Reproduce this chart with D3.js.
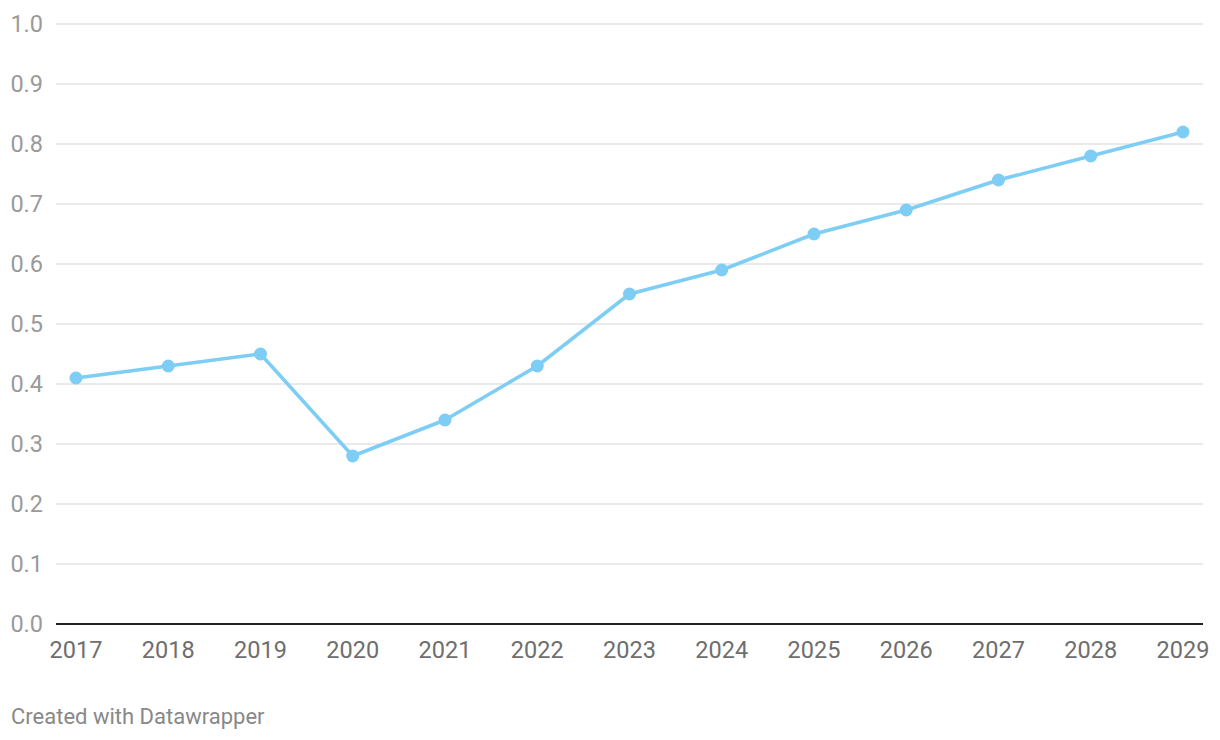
<!DOCTYPE html>
<html><head><meta charset="utf-8">
<script src="https://cdn.jsdelivr.net/npm/d3@7"></script>
<style>
html,body{margin:0;padding:0;background:#fff;}
svg{display:block;font-family:Roboto, "Noto Sans", sans-serif;}
</style></head>
<body>
<svg id="chart" width="1220" height="740"></svg>
<script>
const years = ["2017","2018","2019","2020","2021","2022","2023","2024","2025","2026","2027","2028","2029"];
const values = [0.41,0.43,0.45,0.28,0.34,0.43,0.55,0.59,0.65,0.69,0.74,0.78,0.82];
const yTicks = [0,0.1,0.2,0.3,0.4,0.5,0.6,0.7,0.8,0.9,1.0];
const footer = "Created with Datawrapper";

const svg = d3.select("#chart");
const x = d3.scalePoint().domain(years).range([76, 1183]);
const y = d3.scaleLinear().domain([0,1]).range([624, 24]);
const gridLeft = 56, gridRight = 1203;

const grid = svg.append("g");
grid.selectAll("line").data(yTicks.filter(d=>d>0)).join("line")
  .attr("x1", gridLeft).attr("x2", gridRight)
  .attr("y1", d=>y(d)).attr("y2", d=>y(d))
  .attr("stroke", "#e3e3e3").attr("stroke-width", 1.5);

svg.append("g").selectAll("text").data(yTicks).join("text")
  .attr("x", 43).attr("y", d=>y(d)).attr("dy","0.35em")
  .attr("text-anchor","end").attr("font-size", 23.5).attr("fill","#9a9a9a")
  .text(d=>d3.format(".1f")(d));

svg.append("line").attr("x1", gridLeft).attr("x2", gridRight)
  .attr("y1", y(0)).attr("y2", y(0)).attr("stroke","#222").attr("stroke-width",2);

svg.append("g").selectAll("text").data(years).join("text")
  .attr("x", d=>x(d)).attr("y", 658)
  .attr("text-anchor","middle").attr("font-size",23.5).attr("fill","#6e6e6e")
  .text(d=>d);

const pts = years.map((yr,i)=>({yr, v: values[i]}));
svg.append("path").datum(pts)
  .attr("fill","none").attr("stroke","#7dcdf5").attr("stroke-width",3.5)
  .attr("stroke-linejoin","round")
  .attr("d", d3.line().x(d=>x(d.yr)).y(d=>y(d.v)));
svg.append("g").selectAll("circle").data(pts).join("circle")
  .attr("cx", d=>x(d.yr)).attr("cy", d=>y(d.v)).attr("r",6.5)
  .attr("fill","#7dcdf5");

svg.append("text").attr("x", 11).attr("y", 724).attr("font-size",22).attr("fill","#888")
  .text(footer);
</script>
</body></html>
